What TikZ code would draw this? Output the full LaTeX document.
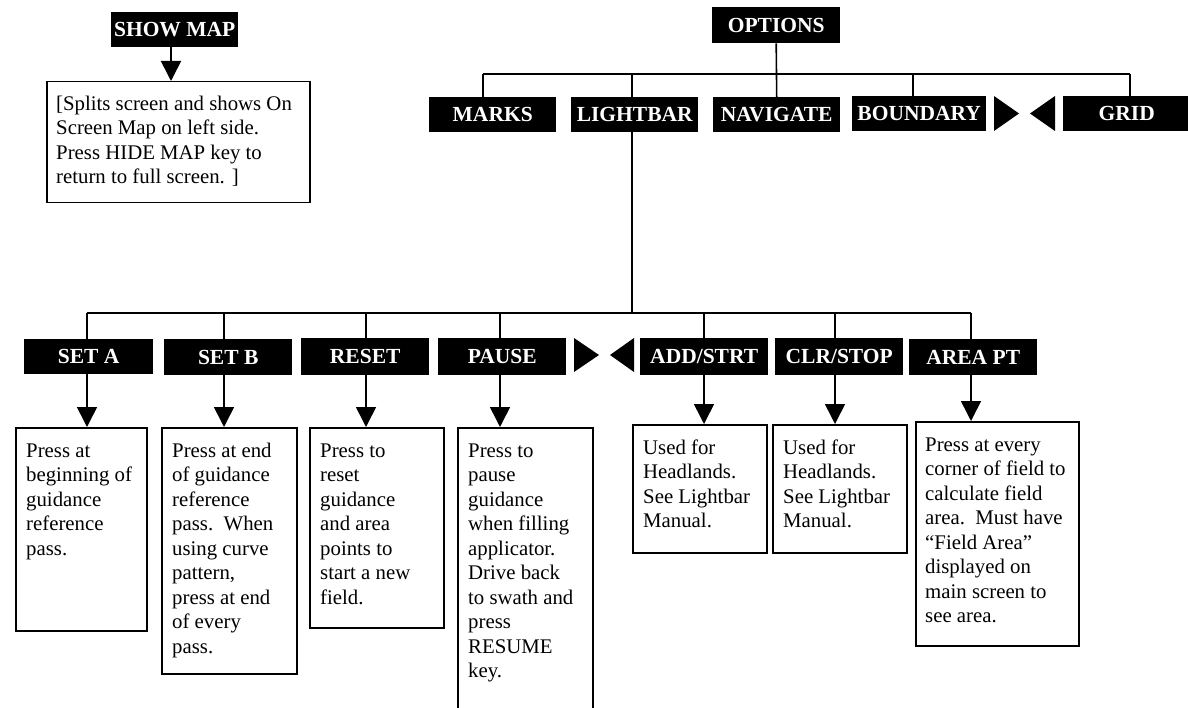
\documentclass[tikz,border=0pt]{standalone}
\usepackage{fontspec}
\setmainfont{Liberation Serif}
\usetikzlibrary{arrows.meta}
\tikzset{
  hdr/.style={fill=black, text=white, font=\fontsize{21.5}{24}\selectfont\bfseries, inner sep=0pt, anchor=north west},
  descbox/.style={draw=black, line width=1.5pt, inner sep=0pt, anchor=north west},
  desctext/.style={font=\fontsize{20.8}{24.5}\selectfont, align=left, inner sep=0pt, anchor=north west},
  ln/.style={line width=1.6pt},
  arr/.style={line width=1.6pt, -{Triangle[width=20pt,length=20pt]}},
  tri/.style={fill=black}
}
\begin{document}
\begin{tikzpicture}[x=1pt,y=-1pt]
\useasboundingbox (0,0) rectangle (1188,708);

% ---- header boxes
\node[hdr, minimum width=127pt, minimum height=35pt] (show) at (111,12) {SHOW MAP};
\node[hdr, minimum width=128pt, minimum height=36pt] (opt) at (712,7) {OPTIONS};
\node[hdr, minimum width=127pt, minimum height=35pt] (marks) at (429,97) {MARKS};
\node[hdr, minimum width=127pt, minimum height=35pt] (lb) at (571,97) {LIGHTBAR};
\node[hdr, minimum width=127pt, minimum height=35pt] (nav) at (713,97) {NAVIGATE};
\node[hdr, minimum width=134pt, minimum height=35pt] (bound) at (852,96) {BOUNDARY};
\node[hdr, minimum width=127pt, minimum height=35pt] (grid) at (1063,96) {GRID};

\node[hdr, minimum width=129pt, minimum height=35pt] (seta) at (24,339) {SET A};
\node[hdr, minimum width=128pt, minimum height=36pt] (setb) at (164,339) {SET B};
\node[hdr, minimum width=128pt, minimum height=37pt] (reset) at (301,338) {RESET};
\node[hdr, minimum width=128pt, minimum height=37pt] (pause) at (438,338) {PAUSE};
\node[hdr, minimum width=128pt, minimum height=37pt] (add) at (640,338) {ADD/STRT};
\node[hdr, minimum width=128pt, minimum height=37pt] (clr) at (775,338) {CLR/STOP};
\node[hdr, minimum width=128pt, minimum height=36pt] (area) at (909,339) {AREA PT};

% ---- scroll triangles
\fill[tri] (994,96) -- (1019,113.5) -- (994,131) -- cycle;
\fill[tri] (1055,96) -- (1030,113.5) -- (1055,131) -- cycle;
\fill[tri] (574,338) -- (599,355) -- (574,372) -- cycle;
\fill[tri] (634,338) -- (610,355) -- (634,372) -- cycle;

% ---- description boxes
\node[descbox, minimum width=263pt, minimum height=121pt] (dshow) at (46,81) {};
\node[desctext] (tshow) at (56,93) {\strut[Splits screen and shows On\\Screen Map on left side.\\Press HIDE MAP key to\\return to full screen. ]};

\node[descbox, minimum width=131pt, minimum height=203pt] (dseta) at (15,427) {};
\node[desctext] (tseta) at (26,440) {\strut Press at\\beginning of\\guidance\\reference\\pass.};

\node[descbox, minimum width=135pt, minimum height=246pt] (dsetb) at (161,427) {};
\node[desctext] (tsetb) at (172,440) {\strut Press at end\\of guidance\\reference\\pass.\ \ When\\using curve\\pattern,\\press at end\\of every\\pass.};

\node[descbox, minimum width=134pt, minimum height=200pt] (dreset) at (309,427) {};
\node[desctext] (treset) at (320,440) {\strut Press to\\reset\\guidance\\and area\\points to\\start a new\\field.};

\node[descbox, minimum width=135pt, minimum height=300pt] (dpause) at (457,427) {};
\node[desctext] (tpause) at (468,440) {\strut Press to\\pause\\guidance\\when filling\\applicator.\\Drive back\\to swath and\\press\\RESUME\\key.};

\node[descbox, minimum width=134pt, minimum height=128pt] (dadd) at (632,424) {};
\node[desctext] (tadd) at (643,437) {\strut Used for\\Headlands.\\See Lightbar\\Manual.};

\node[descbox, minimum width=134pt, minimum height=128pt] (dclr) at (772,424) {};
\node[desctext] (tclr) at (783,437) {\strut Used for\\Headlands.\\See Lightbar\\Manual.};

\node[descbox, minimum width=163pt, minimum height=224pt] (darea) at (915,421) {};
\node[desctext] (tarea) at (925,434) {\strut Press at every\\corner of field to\\calculate field\\area.\ \ Must have\\“Field Area”\\displayed on\\main screen to\\see area.};

% ---- top tree
\coordinate (busL) at (483,74);
\coordinate (busR) at (1130,74);
\coordinate (bLB) at (632,74);
\coordinate (bBD) at (913,74);
\draw[ln] (opt.south) -- (nav.north);
\draw[ln] (busL) -- (busR);
\draw[ln] (busL) -- (marks.north -| busL);
\draw[ln] (bLB) -- (lb.north -| bLB);
\draw[ln] (bBD) -- (bound.north -| bBD);
\draw[ln] (busR) -- (grid.north -| busR);

% ---- show map arrow
\coordinate (xs) at (171,0);
\draw[arr] (show.south -| xs) -- (dshow.north -| xs);

% ---- lightbar tree
\coordinate (lbb) at (632,313);
\coordinate (x1) at (87,313);
\coordinate (x2) at (224,313);
\coordinate (x3) at (366,313);
\coordinate (x4) at (500,313);
\coordinate (x5) at (704,313);
\coordinate (x6) at (835,313);
\coordinate (x7) at (971,313);
\draw[ln] (lb.south -| lbb) -- (lbb);
\draw[ln] (x1) -- (x7);
\draw[ln] (x1) -- (seta.north -| x1);
\draw[ln] (x2) -- (setb.north -| x2);
\draw[ln] (x3) -- (reset.north -| x3);
\draw[ln] (x4) -- (pause.north -| x4);
\draw[ln] (x5) -- (add.north -| x5);
\draw[ln] (x6) -- (clr.north -| x6);
\draw[ln] (x7) -- (area.north -| x7);

\draw[arr] (seta.south -| x1) -- (dseta.north -| x1);
\draw[arr] (setb.south -| x2) -- (dsetb.north -| x2);
\draw[arr] (reset.south -| x3) -- (dreset.north -| x3);
\draw[arr] (pause.south -| x4) -- (dpause.north -| x4);
\draw[arr] (add.south -| x5) -- (dadd.north -| x5);
\draw[arr] (clr.south -| x6) -- (dclr.north -| x6);
\draw[arr] (area.south -| x7) -- (darea.north -| x7);
\end{tikzpicture}
\end{document}
